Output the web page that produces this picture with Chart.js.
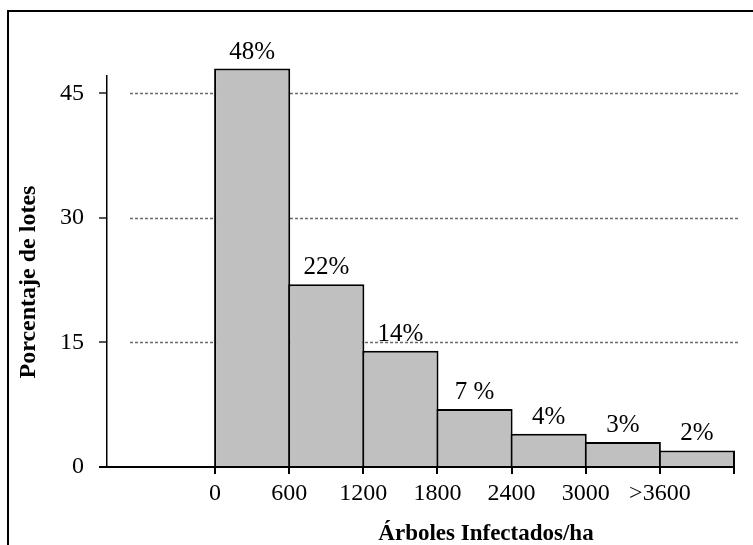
<!DOCTYPE html>
<html>
<head>
<meta charset="utf-8">
<script src="https://cdn.jsdelivr.net/npm/chart.js@4/dist/chart.umd.min.js"></script>
<style>
  html, body { margin: 0; padding: 0; background: #fff; }
  canvas { display: block; }
</style>
</head>
<body>
<canvas id="chart" width="753" height="545"></canvas>
<script>
// Histogram: share of plots by infected trees per hectare
const binStarts = [0, 600, 1200, 1800, 2400, 3000, 3600];
const binWidth = 600;
const percentages = [48, 22, 14, 7, 4, 3, 2];
const percentLabels = ['48%', '22%', '14%', '7 %', '4%', '3%', '2%'];
const xTickValues = [0, 600, 1200, 1800, 2400, 3000, 3600, 4200];
const xTickLabels = ['0', '600', '1200', '1800', '2400', '3000', '>3600', ''];
const yTickValues = [0, 15, 30, 45];
const xTitle = 'Árboles Infectados/ha';
const yTitle = 'Porcentaje de lotes';

const SERIF = "'Liberation Serif', 'Times New Roman', Times, serif";

const bars = binStarts.map((start, i) => ({ x: start + binWidth / 2, y: percentages[i] }));

// dotted horizontal guides, kept behind the bars
const guideLines = {
  id: 'guideLines',
  beforeDatasetsDraw(chart) {
    const { ctx, chartArea } = chart;
    const y = chart.scales.y;
    ctx.save();
    ctx.strokeStyle = '#6a6a6a';
    ctx.lineWidth = 1.6;
    ctx.setLineDash([3, 2]);
    yTickValues.filter(v => v > 0).forEach(v => {
      const py = Math.round(y.getPixelForValue(v)) + 0.5;
      ctx.beginPath();
      ctx.moveTo(chartArea.left + 23, py);
      ctx.lineTo(chartArea.right + 6, py);
      ctx.stroke();
    });
    ctx.restore();
  }
};

// percentage written above each bar
const barLabels = {
  id: 'barLabels',
  afterDatasetsDraw(chart) {
    const { ctx } = chart;
    const meta = chart.getDatasetMeta(0);
    ctx.save();
    ctx.fillStyle = '#000';
    ctx.font = '25px ' + SERIF;
    ctx.textAlign = 'center';
    ctx.textBaseline = 'alphabetic';
    meta.data.forEach((bar, i) => {
      ctx.fillText(percentLabels[i], bar.x, bar.y - 10);
    });
    ctx.restore();
  }
};

// axis titles and the surrounding frame
const decorations = {
  id: 'decorations',
  afterDraw(chart) {
    const { ctx } = chart;
    ctx.save();
    ctx.fillStyle = '#000';

    ctx.font = 'bold 23px ' + SERIF;
    ctx.textAlign = 'center';
    ctx.textBaseline = 'alphabetic';
    ctx.fillText(xTitle, 486, 540);

    ctx.save();
    ctx.translate(29, 282);
    ctx.rotate(-Math.PI / 2);
    ctx.font = 'bold 24px ' + SERIF;
    ctx.textBaseline = 'middle';
    ctx.fillText(yTitle, 0, 0);
    ctx.restore();

    ctx.strokeStyle = '#000';
    ctx.lineWidth = 2;
    ctx.beginPath();
    ctx.moveTo(8, 545);
    ctx.lineTo(8, 11);
    ctx.lineTo(753, 11);
    ctx.stroke();
    ctx.restore();
  }
};

new Chart(document.getElementById('chart'), {
  type: 'bar',
  data: {
    datasets: [{
      data: bars,
      backgroundColor: '#c0c0c0',
      borderColor: '#000',
      borderWidth: 2,
      borderSkipped: 'start',
      barPercentage: 1.027,
      categoryPercentage: 1,
      clip: false
    }]
  },
  options: {
    responsive: false,
    animation: false,
    devicePixelRatio: 1,
    layout: { padding: { top: 76, right: 19, left: 0, bottom: 0 } },
    plugins: {
      legend: { display: false },
      tooltip: { enabled: false }
    },
    scales: {
      x: {
        type: 'linear',
        min: -875,
        max: 4200,
        offset: false,
        afterBuildTicks: s => { s.ticks = xTickValues.map(v => ({ value: v })); },
        afterFit: s => { s.height = 78; },
        ticks: {
          callback: (v, i) => xTickLabels[i],
          font: { family: SERIF, size: 24 },
          color: '#000',
          padding: 5,
          maxRotation: 0,
          autoSkip: false
        },
        grid: { offset: false, drawOnChartArea: false, drawTicks: true, tickLength: 7, color: '#000', lineWidth: 2 },
        border: { color: '#000', width: 2 }
      },
      y: {
        min: 0,
        max: 47.1,
        afterBuildTicks: s => { s.ticks = yTickValues.map(v => ({ value: v })); },
        afterFit: s => { s.width = 107; },
        ticks: {
          font: { family: SERIF, size: 24 },
          color: '#000',
          padding: 15
        },
        grid: {
          drawOnChartArea: false,
          drawTicks: true,
          tickLength: 8,
          color: ctx => (ctx.tick && ctx.tick.value === 0 ? '#000' : '#555'),
          lineWidth: 2
        },
        border: { color: '#000', width: 1.5 }
      }
    }
  },
  plugins: [guideLines, barLabels, decorations]
});
</script>
</body>
</html>
